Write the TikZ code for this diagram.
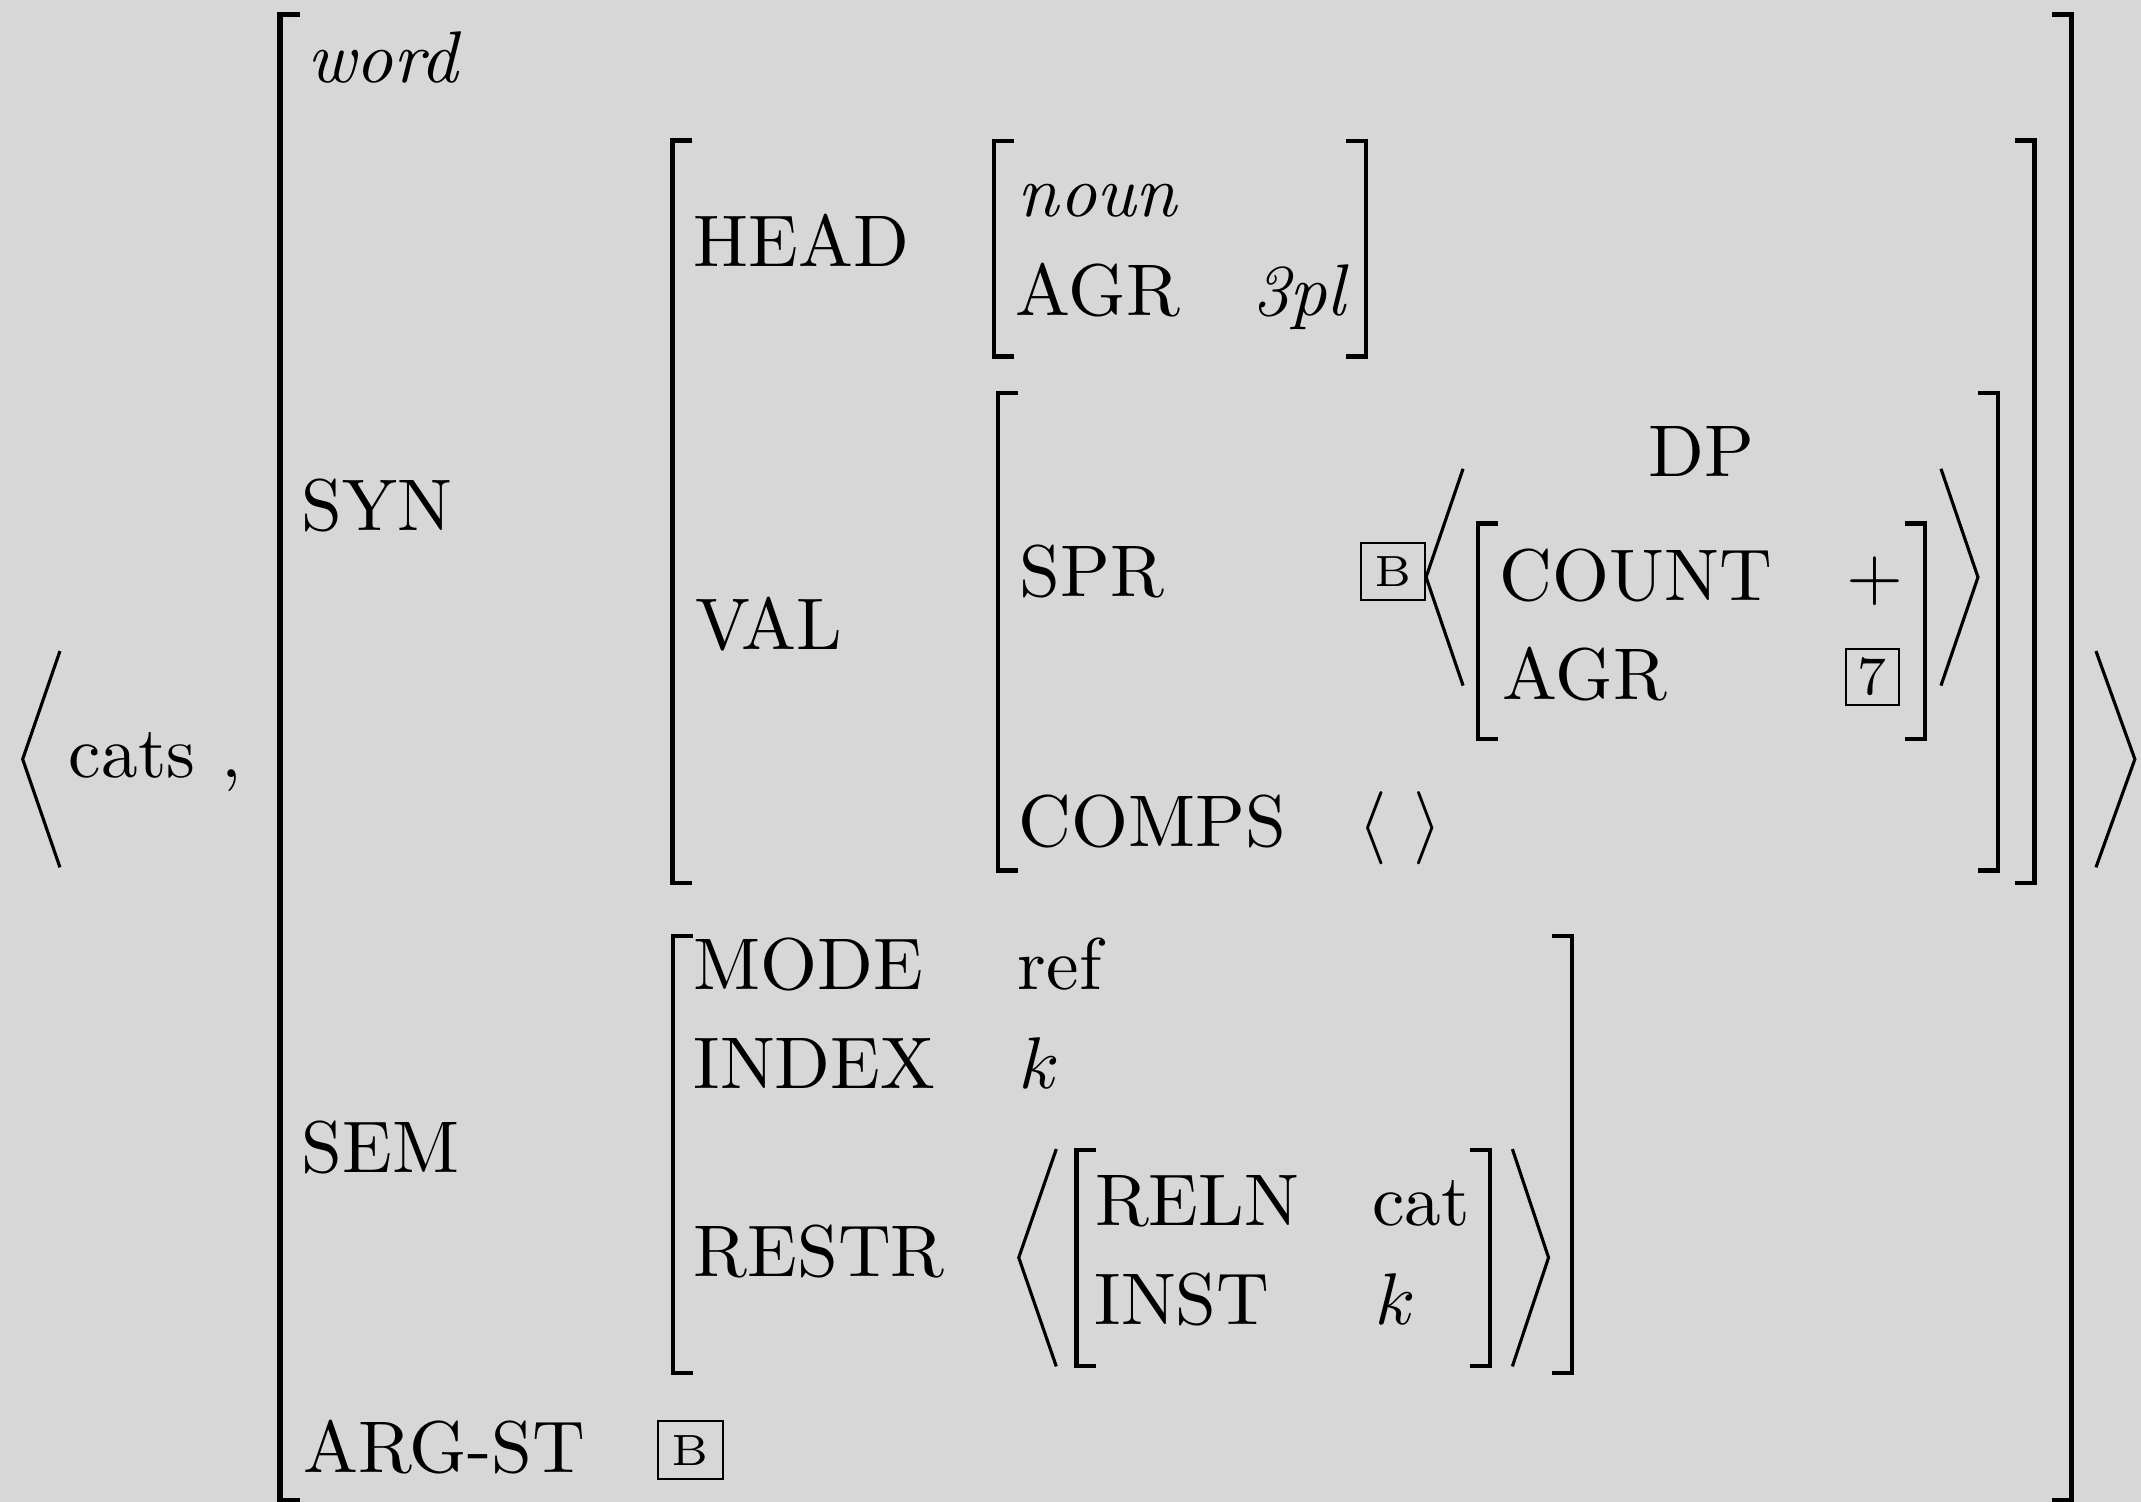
\documentclass[tikz,border=0pt]{standalone}
\usepackage{graphicx}
\usepackage{xcolor}
\definecolor{bgc}{RGB}{215,215,215}
\newcommand\LBr[4][brk]{\draw[#1] (#2+14.5,#3) -- (#2,#3) -- (#2,#4) -- (#2+14.5,#4);}
\newcommand\RBr[4][brk]{\draw[#1] (#2-14.5,#3) -- (#2,#3) -- (#2,#4) -- (#2-14.5,#4);}
\newcommand\T[1]{\scalebox{2.68}{\fontsize{10}{12}\selectfont #1}}
\newcommand\Tsm[2]{\scalebox{2.625}{\fontsize{#1}{#1}\selectfont #2}}
\begin{document}
\begin{tikzpicture}[x=0.5pt,y=-0.5pt,
  every node/.style={inner sep=0pt, outer sep=0pt},
  t/.style={anchor=base west},
  brk/.style={line width=1.6pt, line cap=butt, line join=miter},
  brkbig/.style={line width=2pt, line cap=butt, line join=miter},
  ang/.style={line width=1.15pt, line cap=butt, line join=miter},
  tagbox/.style={draw, line width=0.7pt},
]
\fill[bgc] (0,0) rectangle (1568,1100);
\useasboundingbox (0,0) rectangle (1568,1100);

% brackets
\LBr[brkbig]{205}{10.5}{1099}
\RBr[brkbig]{1517}{10.5}{1099}
\LBr{492.5}{103}{646.5}
\RBr{1490}{103}{646.5}
\LBr{727.8}{103.3}{261}
\RBr{1000.5}{103.3}{261}
\LBr{731}{287.6}{637.5}
\RBr{1463.2}{287.6}{637.5}
\LBr{1082.3}{383.5}{541}
\RBr{1409.6}{383.5}{541}
\LBr{492.9}{685.5}{1005.5}
\RBr{1151.3}{685.5}{1005.5}
\LBr{788.3}{842}{1000.5}
\RBr{1091.3}{842}{1000.5}

% angle brackets
\draw[ang] (43.9,476.8) -- (16.6,556) -- (43.9,635.2);
\draw[ang] (1535,476.8) -- (1563.5,556) -- (1535,635.2);
\draw[ang] (1071.5,343.3) -- (1044.4,422.7) -- (1071.5,502.1);
\draw[ang] (1421.5,343.3) -- (1448.6,422.7) -- (1421.5,502.1);
\draw[ang] (773.6,841.5) -- (746.1,921) -- (773.6,1000.7);
\draw[ang] (1107.6,841.5) -- (1134.1,921) -- (1107.6,1000.7);

% texts
\node[t] (cats) at (50.5,569.3) {\T{cats}};
\node[t] (comma) at (162.5,569.3) {\T{,}};
\node[t] (word) at (225,60.3) {\T{\itshape word}};
\node[t] (syn) at (221,388.6) {\T{SYN}};
\node[t] (sem) at (221,858.7) {\T{SEM}};
\node[t] (argst) at (222,1078.5) {\T{ARG-ST}};
\node[t] (head) at (508,195.4) {\T{HEAD}};
\node[t] (val) at (509,476) {\T{VAL}};
\node[t] (noun) at (745.5,158.2) {\T{\itshape noun}};
\node[t] (agr1) at (744,231.4) {\T{AGR}};
\node[t] (tpl) at (917,231.4) {\T{\itshape 3pl}};
\node[t] (spr) at (746.7,436.7) {\T{SPR}};
\node[t] (comps) at (746,620) {\T{COMPS}};
\node[t] (lang) at (995,620) {\T{$\langle$}};
\node[t] (rang) at (1035.5,620) {\T{$\rangle$}};
\node[anchor=base] (dp) at (1246,348.7) {\T{DP}};
\node[t] (count) at (1098.4,439.6) {\T{COUNT}};
\node[t] (agr2) at (1100.5,512.1) {\T{AGR}};
\node[anchor=base] (plus) at (1373,439) {\T{$+$}};
\node[tagbox, minimum width=19.3pt, minimum height=20.6pt] (tag7) at (1371.3,495.6) {\Tsm{7.6}{7}};
\node[tagbox, minimum width=23.3pt, minimum height=20.75pt] (tagB1) at (1020.3,418.7) {\Tsm{6.1}{B}};
\node[tagbox, minimum width=23.8pt, minimum height=21.3pt] (tagB2) at (505.4,1062) {\Tsm{6.1}{B}};
\node[t] (mode) at (508,724.6) {\T{MODE}};
\node[t] (ref) at (745.5,724.6) {\T{ref}};
\node[t] (index) at (508,797.2) {\T{INDEX}};
\node[t] (k1) at (747,797.2) {\T{$k$}};
\node[t] (restr) at (508,934.8) {\T{RESTR}};
\node[t] (reln) at (802,897.2) {\T{RELN}};
\node[t] (cat) at (1005,897.2) {\T{cat}};
\node[t] (inst) at (801.7,969.8) {\T{INST}};
\node[t] (k2) at (1007,969.8) {\T{$k$}};
\end{tikzpicture}
\end{document}
